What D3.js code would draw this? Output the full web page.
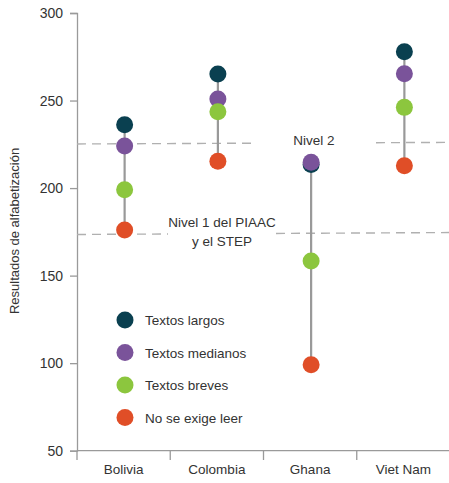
<!DOCTYPE html>
<html>
<head>
<meta charset="utf-8">
<script src="https://cdn.jsdelivr.net/npm/d3@7/dist/d3.min.js"></script>
<style>
  html, body { margin: 0; padding: 0; background: #fff; }
  svg { display: block; font-family: "Liberation Sans", Arial, sans-serif; }
</style>
</head>
<body>
<svg id="chart" width="449" height="483"></svg>
<script>
const countries = ["Bolivia", "Colombia", "Ghana", "Viet Nam"];
const seriesNames = ["Textos largos", "Textos medianos", "Textos breves", "No se exige leer"];
const textosLargos   = [236.2, 265.2, 213.5, 277.9];
const textosMedianos = [224.0, 250.9, 214.7, 265.3];
const textosBreves   = [199.1, 243.6, 158.4, 246.1];
const noSeExigeLeer  = [176.1, 215.3, 99.1, 212.8];
const yTicks = [50, 100, 150, 200, 250, 300];
const nivel2 = [225.2, 226.1];   // start, end value of dashed reference
const nivel1 = [173.5, 174.6];
const colors = ["#0a4050", "#7a539a", "#8cc63e", "#e04e27"];

const series = [textosLargos, textosMedianos, textosBreves, noSeExigeLeer];

const svg = d3.select("#chart");
const W = 449;
const x = d3.scaleBand().domain(countries).range([77, 450]).padding(0);
const y = d3.scaleLinear().domain([50, 300]).range([450.7, 13]);

const textColor = "#333";
const axisColor = "#9a9a9a";

// Y axis
const yAxis = svg.append("g").attr("transform", "translate(77,0)")
  .call(d3.axisLeft(y).tickValues(yTicks).tickSize(7).tickPadding(7));
yAxis.select(".domain").attr("stroke", axisColor).attr("stroke-width", 1.3);
yAxis.selectAll(".tick line").attr("stroke", axisColor).attr("stroke-width", 1.3);
yAxis.selectAll(".tick text").attr("fill", textColor).style("font-size", "14px")
  .attr("font-family", "'Liberation Sans', Arial, sans-serif");

// X axis (labels)
const xAxis = svg.append("g").attr("transform", "translate(0,450.7)")
  .call(d3.axisBottom(x).tickSize(0).tickPadding(14));
xAxis.select(".domain").remove();
xAxis.selectAll(".tick text").attr("fill", textColor).style("font-size", "13.5px")
  .attr("font-family", "'Liberation Sans', Arial, sans-serif");
svg.append("line").attr("x1", 77).attr("x2", W).attr("y1", 450.7).attr("y2", 450.7)
  .attr("stroke", axisColor).attr("stroke-width", 1.3);
const bounds = countries.map(c => x(c));
svg.append("g").selectAll("line").data(bounds).join("line")
  .attr("x1", d => d).attr("x2", d => d)
  .attr("y1", 450.7).attr("y2", 460)
  .attr("stroke", axisColor).attr("stroke-width", 1.3);

// Y title
svg.append("text")
  .attr("transform", "translate(19,231) rotate(-90)")
  .attr("text-anchor", "middle")
  .attr("fill", textColor)
  .style("font-size", "13px")
  .text("Resultados de alfabetización");

// Dashed reference lines (with gaps for labels)
function refLine(vals, segs) {
  const lineY = px => y(vals[0] + (vals[1] - vals[0]) * (px - 77) / (W - 77));
  segs.forEach(([a, b]) => {
    svg.append("line")
      .attr("x1", a).attr("x2", b)
      .attr("y1", lineY(a)).attr("y2", lineY(b))
      .attr("stroke", "#b0b0b0").attr("stroke-width", 1.4)
      .attr("stroke-dasharray", "9,6");
  });
}
refLine(nivel2, [[77, 254], [376, W]]);
refLine(nivel1, [[77, 168], [276, W]]);

svg.append("text").attr("x", 314).attr("y", 145).attr("text-anchor", "middle")
  .attr("fill", textColor).style("font-size", "13.5px").text("Nivel 2");
svg.append("text").attr("x", 222).attr("y", 227).attr("text-anchor", "middle")
  .attr("fill", textColor).style("font-size", "13.5px").text("Nivel 1 del PIAAC");
svg.append("text").attr("x", 222).attr("y", 246).attr("text-anchor", "middle")
  .attr("fill", textColor).style("font-size", "13.5px").text("y el STEP");

// Range lines
const cx = c => x(c) + x.bandwidth() / 2 + 1;
svg.append("g").selectAll("line").data(countries).join("line")
  .attr("x1", d => cx(d)).attr("x2", d => cx(d))
  .attr("y1", (d, i) => y(d3.max(series, s => s[i])))
  .attr("y2", (d, i) => y(d3.min(series, s => s[i])))
  .attr("stroke", "#999").attr("stroke-width", 2.2);

// Dots
series.forEach((s, k) => {
  svg.append("g").selectAll("circle").data(countries).join("circle")
    .attr("cx", d => cx(d))
    .attr("cy", (d, i) => y(s[i]))
    .attr("r", 8.5)
    .attr("fill", colors[k]);
});

// Legend
const leg = svg.append("g");
seriesNames.forEach((name, k) => {
  const ly = 320 + k * 32.5;
  leg.append("circle").attr("cx", 125).attr("cy", ly).attr("r", 8.5).attr("fill", colors[k]);
  leg.append("text").attr("x", 145).attr("y", ly + 5).attr("fill", textColor)
    .style("font-size", "13.5px").text(name);
});
</script>
</body>
</html>
